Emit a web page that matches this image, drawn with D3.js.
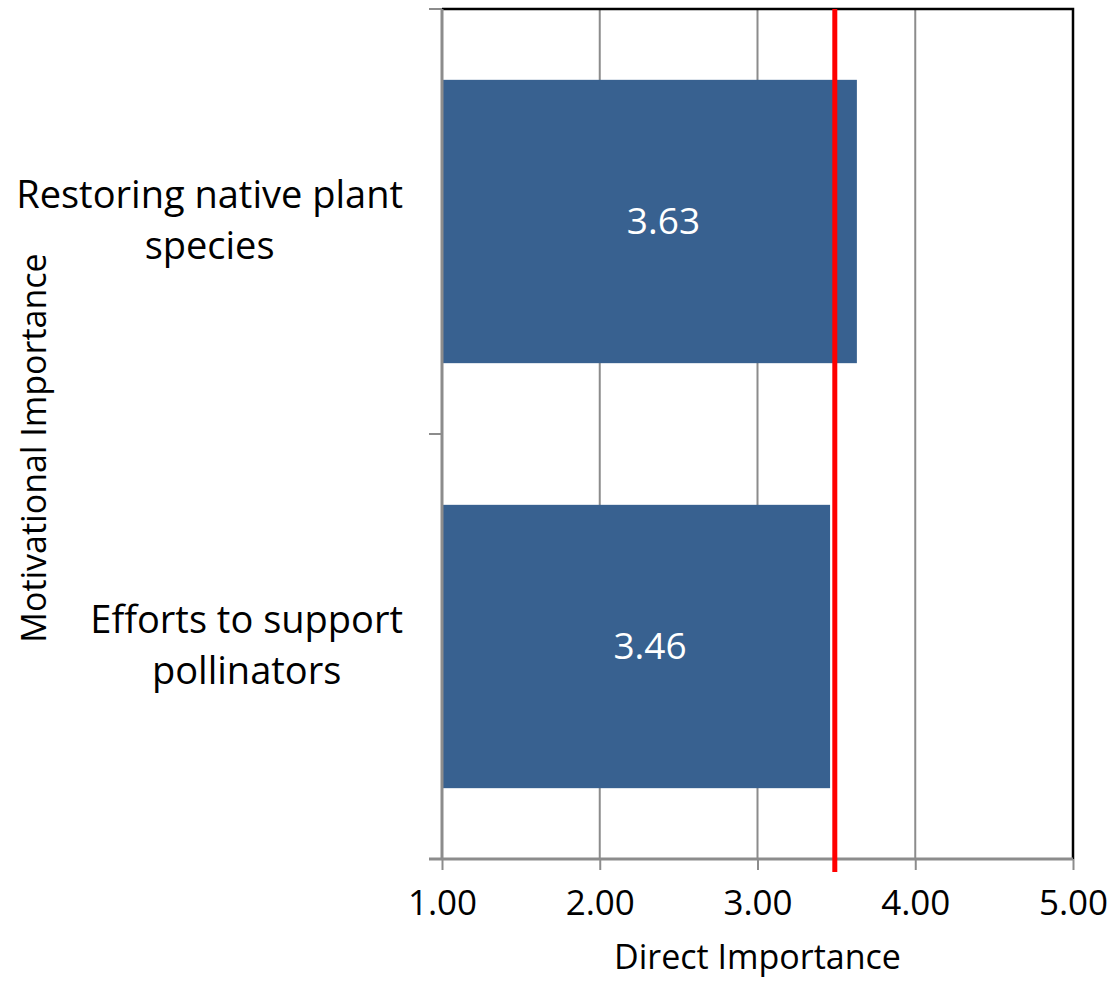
<!DOCTYPE html>
<html>
<head>
<meta charset="utf-8">
<script src="https://cdn.jsdelivr.net/npm/d3@7"></script>
<style>
  html, body { margin: 0; padding: 0; background: #fff; }
  svg { display: block; font-family: "Open Sans", "Noto Sans", sans-serif; }
</style>
</head>
<body>
<svg id="chart" width="1107" height="981"></svg>
<script>
// Categories (top to bottom) and their mean scores
const categories = [
  ["Restoring native plant", "species"],
  ["Efforts to support", "pollinators"]
];
const values = [3.63, 3.46];
const xTicks = [1, 2, 3, 4, 5];
const referenceValue = 3.49;
const xTitle = "Direct Importance";
const yTitle = "Motivational Importance";

const svg = d3.select("#chart");
const plotLeft = 442, plotRight = 1073, plotTop = 9, plotBottom = 859;

const x = d3.scaleLinear().domain([1, 5]).range([plotLeft, plotRight]);
const keys = categories.map((c, i) => i);
const y = d3.scaleBand().domain(keys).range([plotTop, plotBottom])
  .paddingInner(1 / 3).paddingOuter(1 / 6);

// vertical gridlines
svg.append("g").selectAll("line")
  .data(xTicks.slice(1, -1))
  .join("line")
  .attr("x1", d => x(d)).attr("x2", d => x(d))
  .attr("y1", plotTop).attr("y2", plotBottom)
  .attr("stroke", "#8c8c8c").attr("stroke-width", 2);

// bars
svg.append("g").selectAll("rect")
  .data(values)
  .join("rect")
  .attr("x", x(1))
  .attr("y", (d, i) => y(i))
  .attr("width", d => x(d) - x(1))
  .attr("height", y.bandwidth())
  .attr("fill", "#386190");

// value labels
svg.append("g").selectAll("text")
  .data(values)
  .join("text")
  .attr("x", d => x((d + 1) / 2) + 14)
  .attr("y", (d, i) => y(i) + y.bandwidth() / 2 + 12)
  .attr("text-anchor", "middle")
  .attr("fill", "#fff")
  .attr("font-size", 37)
  .text(d => d.toFixed(2));

// plot frame: top and right edges
svg.append("path")
  .attr("d", `M${plotLeft},${plotTop}H${plotRight}V${plotBottom}`)
  .attr("fill", "none").attr("stroke", "#000").attr("stroke-width", 2.5);

// x axis
const xAxis = svg.append("g").attr("transform", `translate(0,${plotBottom})`)
  .call(d3.axisBottom(x).tickValues(xTicks).tickFormat(d3.format(".2f"))
    .tickSizeInner(11).tickSizeOuter(0).tickPadding(20));
xAxis.select(".domain").attr("stroke", "#8c8c8c").attr("stroke-width", 3)
  .attr("d", `M${plotLeft - 13},0H${plotRight}`);
xAxis.selectAll(".tick line").attr("stroke", "#8c8c8c").attr("stroke-width", 2);
xAxis.selectAll(".tick text").attr("font-size", 35).attr("fill", "#000")
  .attr("font-family", "'Open Sans', sans-serif");

// y axis (category boundaries as ticks)
const yAxis = svg.append("g").attr("transform", `translate(${plotLeft},0)`);
yAxis.append("line").attr("x1", 0).attr("x2", 0).attr("y1", plotTop).attr("y2", plotBottom)
  .attr("stroke", "#8c8c8c").attr("stroke-width", 3);
const boundaries = [0, 1, 2].map(i => plotTop + i * y.step());
yAxis.selectAll("line.tk").data(boundaries).join("line").attr("class", "tk")
  .attr("x1", -13).attr("x2", 0).attr("y1", d => d).attr("y2", d => d)
  .attr("stroke", "#8c8c8c").attr("stroke-width", 2);

// category labels: centered lines, block right-aligned to the axis
const labelRight = 403;
categories.forEach((lines, i) => {
  const g = svg.append("g");
  const cy = y(i) + y.bandwidth() / 2;
  const lh = 51;
  const texts = lines.map((ln, j) =>
    g.append("text")
      .attr("y", cy + (j - (lines.length - 1) / 2) * lh + 12)
      .attr("text-anchor", "middle")
      .attr("font-size", 38)
      .attr("fill", "#000")
      .text(ln));
  const w = d3.max(texts, t => t.node().getComputedTextLength());
  texts.forEach(t => t.attr("x", labelRight - w / 2));
});

// reference line
svg.append("line")
  .attr("x1", x(referenceValue)).attr("x2", x(referenceValue))
  .attr("y1", plotTop).attr("y2", plotBottom + 13)
  .attr("stroke", "#ff0000").attr("stroke-width", 5);

// axis titles
svg.append("text")
  .attr("x", (plotLeft + plotRight) / 2).attr("y", 969)
  .attr("text-anchor", "middle").attr("font-size", 34).attr("fill", "#000")
  .text(xTitle);
svg.append("text")
  .attr("transform", `translate(46,${(plotTop + plotBottom) / 2 + 14}) rotate(-90)`)
  .attr("text-anchor", "middle").attr("font-size", 34).attr("fill", "#000")
  .text(yTitle);
</script>
</body>
</html>
